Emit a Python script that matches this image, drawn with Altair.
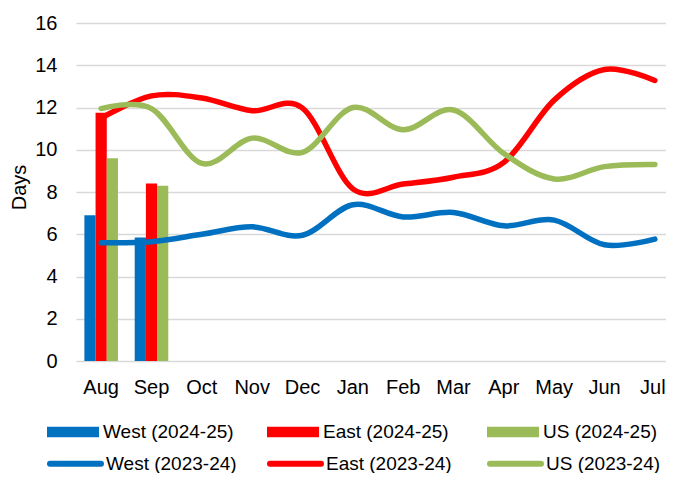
import altair as alt
import pandas as pd

months = ["Aug", "Sep", "Oct", "Nov", "Dec", "Jan", "Feb", "Mar", "Apr", "May", "Jun", "Jul"]
bar_months = ["Aug", "Sep"]
west_2425 = [6.9, 5.85]
east_2425 = [11.75, 8.4]
us_2425 = [9.6, 8.3]
west_2324 = [5.6, 5.65, 6.0, 6.35, 5.95, 7.4, 6.82, 7.03, 6.4, 6.67, 5.5, 5.77]
east_2324 = [11.5, 12.55, 12.45, 11.85, 11.97, 8.15, 8.38, 8.7, 9.4, 12.35, 13.8, 13.28]
us_2324 = [11.95, 11.95, 9.35, 10.55, 9.88, 12.0, 10.95, 11.88, 9.82, 8.62, 9.2, 9.3]

bar_series = ["West (2024-25)", "East (2024-25)", "US (2024-25)"]
line_series = ["West (2023-24)", "East (2023-24)", "US (2023-24)"]
colors = ["#0070C0", "#FF0000", "#9BBB59"]
y_ticks = [0, 2, 4, 6, 8, 10, 12, 14, 16]

FONT = "Liberation Sans"

bar_rows = []
for s, vals in zip(bar_series, [west_2425, east_2425, us_2425]):
    for m, v in zip(bar_months, vals):
        bar_rows.append({"month": m, "series": s, "value": v})
bars_df = pd.DataFrame(bar_rows)

line_rows = []
for s, vals in zip(line_series, [west_2324, east_2324, us_2324]):
    for i, (m, v) in enumerate(zip(months, vals)):
        line_rows.append({"month": m, "series": s, "value": v, "idx": i})
lines_df = pd.DataFrame(line_rows)

x_scale = alt.Scale(domain=months, range=[0, 604], paddingInner=0, paddingOuter=0)
x_axis = alt.Axis(title=None, labelFontSize=20, labelFont=FONT, labelColor="#000000",
                  labelPadding=16, ticks=False, tickSize=0, domain=False, grid=False, labelAngle=0,
                  labelOffset={"condition": {"test": "datum.value == 'Jul'", "value": -2}, "value": 0})
y_scale = alt.Scale(domain=[0, 16], nice=False)
y_axis = alt.Axis(title="Days", values=y_ticks, labelFontSize=20, labelFont=FONT,
                  labelColor="#000000", labelPadding=19, ticks=False, tickSize=0, domain=False,
                  grid=True, gridColor="#D9D9D9", gridWidth=1.5,
                  titleFontSize=20, titleFont=FONT, titleFontWeight="normal", titleColor="#000000",
                  titleAngle=270, titleX=-57, titleY=164, titleAlign="center", titleBaseline="middle")

bars = alt.Chart(bars_df).mark_bar(size=11.2).encode(
    x=alt.X("month:N", sort=months, scale=x_scale, axis=x_axis),
    xOffset=alt.XOffset("series:N", sort=bar_series,
                        scale=alt.Scale(domain=bar_series, paddingInner=0, paddingOuter=0.75)),
    y=alt.Y("value:Q", scale=y_scale, axis=y_axis),
    fill=alt.Fill("series:N", sort=bar_series,
                  scale=alt.Scale(domain=bar_series, range=colors),
                  legend=alt.Legend(title=None, orient="none", legendX=-29, legendY=383,
                                    direction="horizontal", columns=3, gridAlign="all",
                                    symbolType="M-1,-0.2H1V0.2H-1Z", symbolSize=2704,
                                    symbolStrokeWidth=0, labelFontSize=19, labelFont=FONT,
                                    labelColor="#000000", labelOffset=4, columnPadding=33,
                                    padding=0, labelLimit=300)),
)

capsule = "M-0.895,-0.035H0.895A0.035,0.035 0 0 1 0.895,0.035H-0.895A0.035,0.035 0 0 1 -0.895,-0.035Z"
lines = alt.Chart(lines_df).mark_line(interpolate="cardinal", strokeWidth=5.5, strokeCap="round").encode(
    x=alt.X("month:N", sort=months, scale=x_scale, axis=x_axis),
    y=alt.Y("value:Q", scale=y_scale, axis=y_axis),
    order=alt.Order("idx:Q"),
    stroke=alt.Stroke("series:N", sort=line_series,
                      scale=alt.Scale(domain=line_series, range=colors),
                      legend=alt.Legend(title=None, orient="none", legendX=-31, legendY=410,
                                        direction="horizontal", columns=3, gridAlign="all",
                                        symbolType=capsule, symbolSize=3249, symbolStrokeWidth=4,
                                        labelFontSize=19, labelFont=FONT, labelColor="#000000",
                                        labelOffset=0, columnPadding=23, padding=0, labelLimit=300)),
)

chart = alt.layer(bars, lines).resolve_scale(fill="independent", stroke="independent").properties(
    width=590, height=338,
    autosize=alt.AutoSizeParams(type="none"),
    padding={"left": 68, "top": 15, "right": 0, "bottom": 112},
).configure_view(stroke=None)

chart.save("out.html", embed_options={"renderer": "svg", "actions": False})
